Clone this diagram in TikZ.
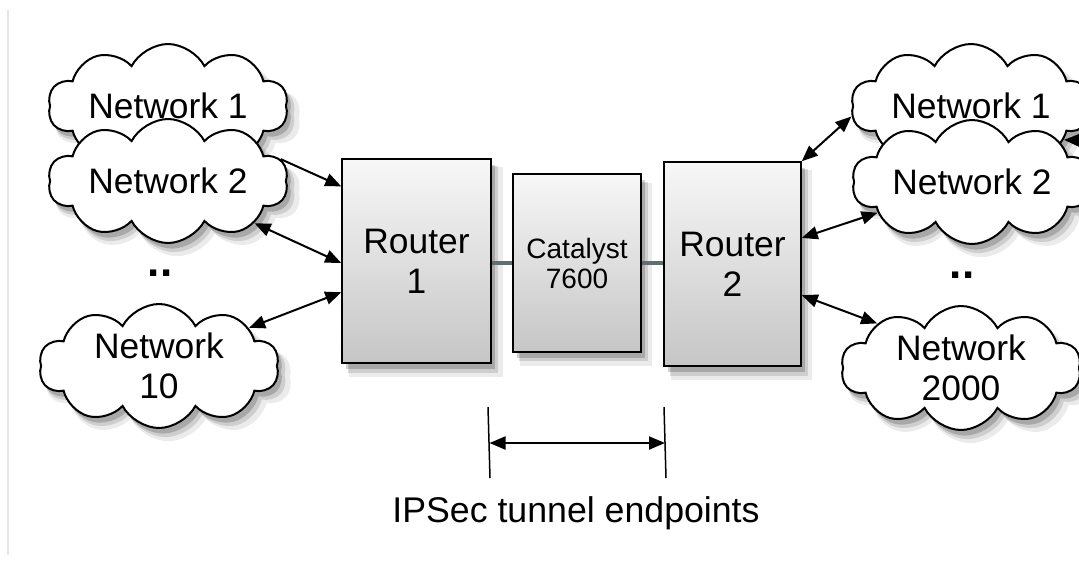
\documentclass[tikz,border=0pt]{standalone}
\usepackage{fontspec}
\setmainfont{Liberation Sans}
\usetikzlibrary{shapes.symbols,arrows.meta,shadows,calc}
\begin{document}
\begin{tikzpicture}[x=0.5pt,y=-0.5pt,
  softshadow/.style={
    drop shadow={shadow xshift=4.5pt,shadow yshift=-5.5pt,opacity=0.08,fill=black,shadow scale=1.03},
    drop shadow={shadow xshift=3.2pt,shadow yshift=-4.2pt,opacity=0.12,fill=black,shadow scale=1.01},
    drop shadow={shadow xshift=2pt,shadow yshift=-2.8pt,opacity=0.18,fill=black}},
  netcloud/.style={cloud, cloud puffs=10, cloud puff arc=125, cloud ignores aspect,
    shape border rotate=18,
    draw, line width=1pt, fill=white, minimum width=120pt, minimum height=62pt,
    inner sep=0pt, font=\fontsize{17.7}{20}\selectfont, align=center, softshadow},
  box/.style={draw, line width=0.75pt, top color=gray!6, bottom color=gray!45,
    inner sep=0pt, align=center, font=\fontsize{17.7}{20}\selectfont, softshadow},
  link/.style={draw={rgb,255:red,95;green,110;blue,110}, line width=1.6pt},
  arr/.style={line width=1pt, {Triangle[length=8pt,width=6.5pt]}-{Triangle[length=8pt,width=6.5pt]}},
  arrone/.style={line width=1pt, -{Triangle[length=8pt,width=6.5pt]}},
  tick/.style={line width=0.75pt},
  dots/.style={font=\fontsize{22}{22}\bfseries\selectfont, anchor=base, inner sep=0pt}
]
\clip (0,0) rectangle (1079,563);
\fill[white] (0,0) rectangle (1079,563);
\draw[gray!20, line width=0.6pt] (8,10) -- (8,555);

% clouds
\node[netcloud] (nl1) at (168,106) {Network 1};
\node[netcloud] (nl2) at (168,181) {Network 2};
\node[netcloud] (nl10) at (159,366) {Network\\10};
\node[netcloud] (nr1) at (971,106) {Network 1};
\node[netcloud] (nr2) at (972,182) {Network 2};
\node[netcloud] (nr2000) at (961,368) {Network\\2000};

\node[dots] (dl) at (160,276) {..};
\node[dots] (dr) at (962,278) {..};

% boxes
\node[box, minimum width=74.5pt, minimum height=102pt] (r1) at (416.5,261) {Router\\1};
\node[box, minimum width=64pt, minimum height=89pt, font=\fontsize{14}{15}\selectfont] (cat) at (577,263) {Catalyst\\7600};
\node[box, minimum width=68.5pt, minimum height=102pt] (r2) at (732.5,264) {Router\\2};

\draw[link] (r1.east |- cat.center) -- (cat.west);
\draw[link] (cat.east) -- (r2.west |- cat.east);

% left arrows
\draw[arrone] (nl2.11) -- ($(r1.north west)!0.137!(r1.south west)$);
\draw[arr] (nl2.-26) -- ($(r1.north west)!0.51!(r1.south west)$);
\draw[arr] ($(r1.north west)!0.652!(r1.south west)$) -- (nl10.23);

% right arrows
\draw[arr] (r2.north east) -- (nr1.185);
\draw[arr] ($(r2.north east)!0.373!(r2.south east)$) -- (nr2.198);
\draw[arr] ($(r2.north east)!0.652!(r2.south east)$) -- (nr2000.152);

% arrows from beyond the right edge
\coordinate (o1) at (1130,98);
\coordinate (o2) at (1130,142);
\coordinate (o3) at (1130,175);
\draw[arrone] (o1) -- (nr1.5);
\draw[arrone] (o2) -- (nr1.-20);
\draw[arrone] (o3) -- (nr2.4);

% tunnel endpoints
\coordinate (t1a) at (488,407);
\coordinate (t1b) at (490,478);
\coordinate (t2a) at (664,407);
\coordinate (t2b) at (666,478);
\coordinate (ea) at (489.5,443);
\coordinate (eb) at (665,443);
\draw[tick] (t1a) -- (t1b);
\draw[tick] (t2a) -- (t2b);
\draw[arr] (ea) -- (eb);
\node[font=\fontsize{17.85}{20}\selectfont] (cap) at (576,513) {IPSec tunnel endpoints};
\end{tikzpicture}
\end{document}
